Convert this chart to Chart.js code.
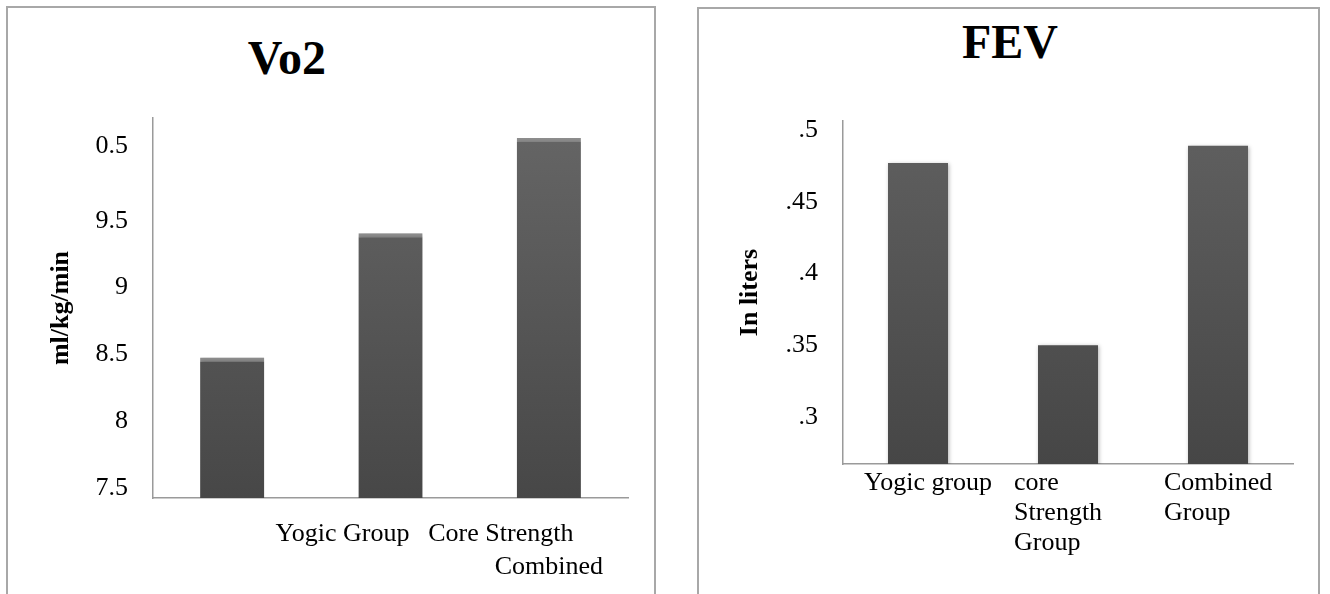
<!DOCTYPE html>
<html>
<head>
<meta charset="utf-8" />
<script src="https://cdn.jsdelivr.net/npm/chart.js@4.4.1/dist/chart.umd.min.js"></script>
<style>
  body {
    margin: 0;
    width: 1330px;
    height: 594px;
    overflow: hidden;
    background: #fff;
    position: relative;
    font-family: "Liberation Serif", serif;
  }
  .panel {
    position: absolute;
    border: 2px solid #a8a8a8;
    border-bottom: none;
    height: 620px;
  }
  .title {
    position: absolute;
    width: 200px;
    text-align: center;
    font: bold 48px/48px "Liberation Serif", serif;
    color: #000;
  }
  canvas {
    position: absolute;
    top: 0;
  }
</style>
</head>
<body>
<div class="panel" style="left: 6px; top: 6px; width: 646px"></div>
<div class="panel" style="left: 697px; top: 7px; width: 619px"></div>
<div class="title" style="left: 187px; top: 34px">Vo2</div>
<div class="title" style="left: 910px; top: 18px">FEV</div>
<canvas id="vo2Chart" width="655" height="594" style="left: 0"></canvas>
<canvas id="fevChart" width="655" height="594" style="left: 665px"></canvas>

<script>
//Vo2 data
const vo2Values = [8.477, 9.407, 10.12];
const vo2LabelsTop = ["", "Yogic Group", "Core Strength"];
const vo2LabelsBottom = ["", "", "Combined"];
const vo2TickValues = [7.5, 8, 8.5, 9, 9.5, 10.06];
const vo2TickLabels = ["7.5", "8", "8.5", "9", "9.5", "0.5"];

//FEV data
const fevValues = [0.477, 0.35, 0.489];
const fevLabels = ["Yogic group", ["core", "Strength", "Group"], ["Combined", "Group"]];
const fevTickValues = [0.3, 0.35, 0.4, 0.45, 0.5];
const fevTickLabels = [".3", ".35", ".4", ".45", ".5"];

const serif = "'Liberation Serif', serif";
const axisColor = "#9a9a9a";

const barFill = (top, bottom) => (ctx) => {
  const area = ctx.chart.chartArea;
  if (!area) return bottom;
  const g = ctx.chart.ctx.createLinearGradient(0, area.top, 0, area.bottom);
  g.addColorStop(0, top);
  g.addColorStop(1, bottom);
  return g;
};

// soft shadow behind the bars
const barShadow = {
  id: "barShadow",
  beforeDatasetsDraw: (chart) => {
    const c = chart.ctx;
    c.save();
    c.shadowColor = "rgba(0, 0, 0, 0.3)";
    c.shadowBlur = 4;
    c.shadowOffsetX = 1;
    c.shadowOffsetY = 1;
  },
  afterDatasetsDraw: (chart) => {
    chart.ctx.restore();
  },
};

// fixed axis sizes, no extra room for overhanging labels
const fixHeight = (h) => (s) => {
  s.height = h;
  s.paddingLeft = 0;
  s.paddingRight = 0;
};
const fixWidth = (w) => (s) => {
  s.width = w;
  s.paddingTop = 0;
  s.paddingBottom = 0;
};

const createVo2Chart = () => {
  const config = {
    type: "bar",
    data: {
      labels: vo2LabelsTop,
      datasets: [
        {
          data: vo2Values,
          backgroundColor: barFill("#666666", "#474747"),
          borderColor: "#8d8d8d",
          borderWidth: { top: 4, left: 0, right: 0, bottom: 0 },
          borderSkipped: "bottom",
          categoryPercentage: 1,
          barPercentage: 0.405,
        },
      ],
    },
    options: {
      responsive: false,
      animation: false,
      layout: { padding: { top: 118, right: 27, bottom: 11, left: 0 } },
      plugins: { legend: { display: false }, tooltip: { enabled: false } },
      scales: {
        x: {
          weight: 0,
          grid: { display: false, drawTicks: false },
          border: { display: true, color: axisColor, width: 1.5 },
          ticks: {
            color: "#000",
            font: { family: serif, size: 26, lineHeight: 1.2 },
            padding: 21,
            labelOffset: -48,
            maxRotation: 0,
            minRotation: 0,
            autoSkip: false,
          },
          afterFit: fixHeight(52),
        },
        x2: {
          type: "category",
          position: "bottom",
          weight: 1,
          offset: true,
          labels: vo2LabelsBottom,
          grid: { display: false, drawTicks: false },
          border: { display: false },
          ticks: {
            color: "#000",
            font: { family: serif, size: 26, lineHeight: 1.2 },
            padding: 2,
            maxRotation: 0,
            minRotation: 0,
            autoSkip: false,
          },
          afterFit: fixHeight(33),
        },
        y: {
          min: 7.425,
          max: 10.27,
          grid: { display: false, drawTicks: false },
          border: { display: true, color: axisColor, width: 1.5 },
          afterBuildTicks: (s) => {
            s.ticks = vo2TickValues.map((v) => ({ value: v }));
          },
          ticks: {
            color: "#000",
            font: { family: serif, size: 26 },
            padding: 25,
            callback: (value, i) => vo2TickLabels[i],
          },
          title: {
            display: true,
            text: "ml/kg/min",
            color: "#000",
            font: { family: serif, size: 26, weight: "bold", lineHeight: 1.2 },
            padding: { top: 46, bottom: 0 },
          },
          afterFit: fixWidth(153),
        },
      },
    },
    plugins: [barShadow],
  };

  new Chart(document.getElementById("vo2Chart"), config);
};

const createFevChart = () => {
  const config = {
    type: "bar",
    data: {
      labels: fevLabels,
      datasets: [
        {
          data: fevValues,
          backgroundColor: barFill("#606060", "#464646"),
          borderWidth: 0,
          categoryPercentage: 1,
          barPercentage: 0.4,
        },
      ],
    },
    options: {
      responsive: false,
      animation: false,
      layout: { padding: { top: 121, right: 27, bottom: 0, left: 0 } },
      plugins: { legend: { display: false }, tooltip: { enabled: false } },
      scales: {
        x: {
          grid: { display: false, drawTicks: false },
          border: { display: true, color: axisColor, width: 1.5 },
          ticks: {
            color: "#000",
            font: { family: serif, size: 26, lineHeight: 1.15 },
            padding: 4,
            align: "start",
            labelOffset: -54,
            maxRotation: 0,
            minRotation: 0,
            autoSkip: false,
          },
          afterFit: fixHeight(130),
        },
        y: {
          min: 0.2672,
          max: 0.5063,
          grid: { display: false, drawTicks: false },
          border: { display: true, color: axisColor, width: 1.5 },
          afterBuildTicks: (s) => {
            s.ticks = fevTickValues.map((v) => ({ value: v }));
          },
          ticks: {
            color: "#000",
            font: { family: serif, size: 26 },
            padding: 25,
            callback: (value, i) => fevTickLabels[i],
          },
          title: {
            display: true,
            text: "In liters",
            color: "#000",
            font: { family: serif, size: 26, weight: "bold", lineHeight: 1.2 },
            padding: { top: 70, bottom: 0 },
          },
          afterFit: fixWidth(178),
        },
      },
    },
    plugins: [barShadow],
  };

  new Chart(document.getElementById("fevChart"), config);
};

createVo2Chart();
createFevChart();
</script>
</body>
</html>
